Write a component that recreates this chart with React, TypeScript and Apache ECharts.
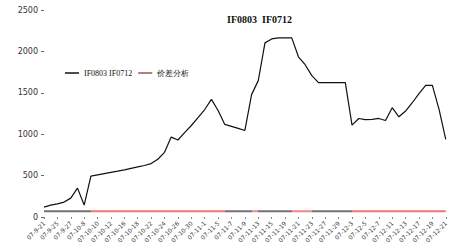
import React, { useEffect, useRef } from "react";
import * as echarts from "echarts";

const dates = [
  "07-9-21", "07-9-24", "07-9-25", "07-9-26", "07-9-27", "07-9-28",
  "07-10-8", "07-10-9", "07-10-10", "07-10-11", "07-10-12",
  "07-10-15", "07-10-16", "07-10-17", "07-10-18", "07-10-19",
  "07-10-22", "07-10-23", "07-10-24", "07-10-25", "07-10-26",
  "07-10-29", "07-10-30", "07-10-31", "07-11-1", "07-11-2",
  "07-11-5", "07-11-6", "07-11-7", "07-11-8", "07-11-9",
  "07-11-12", "07-11-13", "07-11-14", "07-11-15", "07-11-16",
  "07-11-19", "07-11-20", "07-11-21", "07-11-22", "07-11-23",
  "07-11-26", "07-11-27", "07-11-28", "07-11-29", "07-11-30",
  "07-12-3", "07-12-4", "07-12-5", "07-12-6", "07-12-7",
  "07-12-10", "07-12-11", "07-12-12", "07-12-13", "07-12-14",
  "07-12-17", "07-12-18", "07-12-19", "07-12-20", "07-12-21",
];

const spread = [
  120, 144, 158, 180, 228, 349, 144, 493, 508, 523,
  538, 553, 570, 588, 605, 622, 645, 697, 781, 965,
  930, 1020, 1105, 1200, 1298, 1420, 1286, 1118, 1094, 1070,
  1045, 1478, 1647, 2103, 2151, 2163, 2163, 2163, 1935, 1839,
  1707, 1623, 1623, 1623, 1623, 1623, 1110, 1190, 1175, 1180,
  1190, 1165, 1320, 1210, 1280, 1380, 1490, 1590, 1590, 1300,
  937,
];

const basis = [
  70, 70, 70, 70, 70, 70, 70, 70, 70, 70,
  70, 70, 70, 70, 70, 70, 70, 70, 70, 70,
  70, 70, 70, 70, 70, 70, 70, 70, 70, 70,
  70, 70, 70, 70, 70, 70, 70, 70, 70, 70,
  70, 70, 70, 70, 70, 70, 70, 70, 70, 70,
  70, 70, 70, 70, 70, 70, 70, 70, 70, 70,
  70,
];

const seriesNames = ["IF0803 IF0712", "价差分析"];
const yTicks = [0, 500, 1000, 1500, 2000, 2500];

export default function App() {
  const ref = useRef<HTMLDivElement>(null);
  useEffect(() => {
    if (!ref.current) return;
    const chart = echarts.init(ref.current, undefined, { renderer: "svg" });
    chart.setOption({
      animation: false,
      backgroundColor: "#ffffff",
      title: {
        text: "IF0803  IF0712",
        left: 222,
        top: 9,
        textStyle: {
          fontFamily: "Liberation Serif",
          fontSize: 10,
          fontWeight: "bold",
          color: "#111",
        },
      },
      legend: {
        left: 60,
        top: 64,
        icon: "rect",
        itemWidth: 14,
        itemHeight: 1.5,
        itemGap: 6,
        textStyle: { fontFamily: "Liberation Serif", fontSize: 8, color: "#111" },
        data: seriesNames,
      },
      visualMap: {
        show: false,
        seriesIndex: 1,
        dimension: 0,
        pieces: [
          { lt: 7, color: "#777070" },
          { gte: 7, lt: 27, color: "#f07878" },
          { gte: 27, lt: 31, color: "#777070" },
          { gte: 31, lt: 32, color: "#f08a8a" },
          { gte: 32, lt: 37, color: "#777070" },
          { gte: 37, lt: 40, color: "#f08a8a" },
          { gte: 40, lt: 46, color: "#777070" },
          { gte: 46, color: "#f07878" },
        ],
      },
      grid: { left: 44, right: 2, top: 10, bottom: 33 },
      xAxis: {
        type: "category",
        data: dates,
        boundaryGap: false,
        axisLine: { show: false },
        axisTick: {
          show: true,
          interval: 1,
          length: 2,
          lineStyle: { color: "#888" },
        },
        axisLabel: {
          interval: 1,
          rotate: 45,
          fontSize: 6,
          color: "#444",
          margin: 5,
          fontFamily: "DejaVu Sans",
        },
        splitLine: { show: false },
      },
      yAxis: {
        type: "value",
        min: yTicks[0],
        max: yTicks[yTicks.length - 1],
        interval: 500,
        axisLine: { show: false },
        axisTick: { show: true, length: 3, lineStyle: { color: "#666" } },
        axisLabel: {
          fontSize: 8,
          color: "#333",
          margin: 6,
          fontFamily: "DejaVu Sans",
          formatter: (v: number) => String(v),
        },
        splitLine: { show: false },
      },
      series: [
        {
          name: seriesNames[0],
          type: "line",
          data: spread,
          symbol: "none",
          lineStyle: { color: "#111", width: 1.2 },
          itemStyle: { color: "#111" },
        },
        {
          name: seriesNames[1],
          type: "line",
          data: basis,
          symbol: "none",
          lineStyle: { width: 2 },
          itemStyle: { color: "#a05050" },
        },
      ],
    });
    return () => chart.dispose();
  }, []);
  return (
    <div
      ref={ref}
      style={{ position: "absolute", left: 0, top: 0, width: 450, height: 250 }}
    />
  );
}
